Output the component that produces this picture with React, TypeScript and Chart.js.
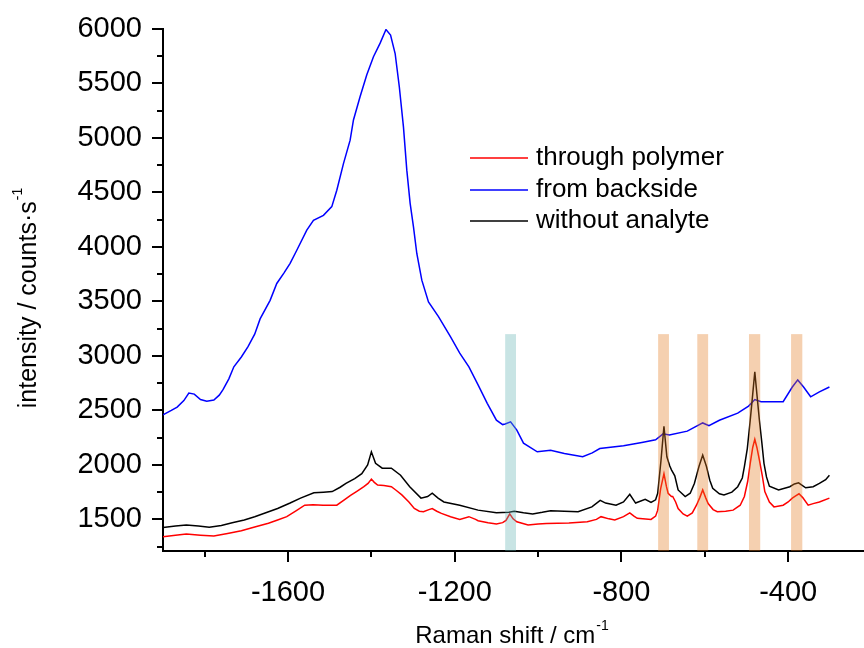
import React, { useEffect, useRef } from 'react';
import { Chart, registerables } from 'chart.js';

Chart.register(...registerables);

// ---------------- data ----------------
const seriesLabels = ['through polymer', 'from backside', 'without analyte'];
const seriesColors = ['#ff0000', '#0000ff', '#000000'];

const throughPolymerX = [
  -1900, -1870, -1844, -1810, -1778, -1745, -1712, -1680, -1647, -1625, -1603, -1580, -1560, -1540,
  -1516, -1483, -1465, -1450, -1434, -1418, -1408, -1400, -1393, -1385, -1370, -1352, -1340, -1327,
  -1310, -1297, -1285, -1275, -1262, -1254, -1243, -1232, -1210, -1188, -1166, -1150, -1144, -1120,
  -1100, -1085, -1077, -1068, -1060, -1051, -1024, -1000, -980, -926, -882, -860, -849, -830, -816,
  -795, -780, -770, -762, -729, -718, -713, -706, -698, -692, -688, -680, -677, -670, -664, -652,
  -642, -630, -620, -612, -605, -598, -592, -580, -570, -550, -532, -515, -505, -497, -491, -485,
  -480, -475, -469, -462, -456, -445, -434, -412, -400, -390, -382, -374, -365, -352, -340, -325, -301,
];
const throughPolymerY = [
  1340, 1355, 1365, 1355, 1347, 1370, 1395, 1430, 1465, 1495, 1525, 1580, 1630, 1635,
  1630, 1630, 1680, 1720, 1760, 1800, 1830, 1870, 1840, 1815, 1810, 1800, 1765, 1725,
  1660, 1600, 1575, 1570, 1590, 1600, 1575, 1555, 1525, 1500, 1525, 1500, 1488, 1470,
  1457, 1470, 1490, 1550, 1505, 1478, 1448, 1458, 1463, 1468, 1478, 1500, 1525, 1505, 1495,
  1525, 1560, 1530, 1510, 1500, 1530, 1585, 1780, 1920, 1800, 1740, 1710, 1710, 1660, 1600, 1550,
  1530, 1560, 1630, 1700, 1770, 1700, 1645, 1590, 1570, 1575, 1585, 1630, 1710, 1850, 2015, 2160,
  2235, 2160, 2045, 1900, 1755, 1660, 1615, 1630, 1660, 1695, 1715, 1735, 1700, 1630, 1645, 1660, 1695,
];

const fromBacksideX = [
  -1900, -1880, -1866, -1850, -1838, -1825, -1810, -1795, -1778, -1765, -1756, -1742, -1730, -1712,
  -1696, -1680, -1667, -1643, -1627, -1610, -1595, -1579, -1555, -1539, -1515, -1495, -1483, -1467,
  -1451, -1443, -1427, -1411, -1395, -1379, -1365, -1354, -1343, -1333, -1323, -1315, -1307, -1299,
  -1291, -1279, -1263, -1239, -1220, -1210, -1188, -1166, -1144, -1122, -1100, -1085, -1079, -1066,
  -1051, -1035, -1002, -970, -937, -893, -870, -852, -795, -751, -718, -700, -685, -642, -605, -590,
  -565, -521, -495, -480, -465, -445, -412, -390, -377, -363, -346, -325, -301,
];
const fromBacksideY = [
  2460, 2500, 2530, 2590, 2660, 2650, 2600, 2585, 2595, 2640, 2690, 2790, 2900, 2990,
  3085, 3200, 3340, 3510, 3665, 3760, 3850, 3970, 4155, 4245, 4290, 4370, 4520, 4765,
  4980, 5165, 5380, 5580, 5745, 5870, 5995, 5945, 5775, 5470, 5100, 4705, 4400, 4185,
  3940, 3695, 3495, 3360, 3240, 3175, 3025, 2900, 2735, 2565, 2410, 2370, 2375, 2395,
  2320, 2200, 2120, 2135, 2105, 2075, 2110, 2150, 2175, 2205, 2230, 2285, 2275, 2310, 2385, 2360,
  2410, 2475, 2540, 2600, 2580, 2580, 2580, 2715, 2780, 2715, 2625, 2670, 2715,
];

const withoutAnalyteX = [
  -1900, -1870, -1844, -1815, -1789, -1760, -1734, -1705, -1680, -1650, -1625, -1595, -1570, -1538,
  -1515, -1494, -1475, -1461, -1440, -1423, -1409, -1400, -1390, -1374, -1352, -1330, -1308, -1281,
  -1265, -1254, -1240, -1226, -1188, -1144, -1100, -1070, -1057, -1035, -1013, -990, -970, -904,
  -871, -851, -838, -813, -795, -780, -766, -743, -729, -718, -713, -705, -698, -691, -684, -680,
  -672, -664, -647, -635, -625, -614, -605, -596, -588, -581, -565, -554, -535, -521, -510, -505,
  -498, -491, -485, -480, -475, -469, -463, -458, -452, -445, -423, -396, -385, -375, -358, -340,
  -325, -310, -301,
];
const withoutAnalyteY = [
  1425, 1440, 1448, 1440, 1428, 1445, 1470, 1495, 1525, 1565, 1600, 1650, 1695, 1745,
  1750, 1755, 1795, 1830, 1875, 1920, 2000, 2120, 2015, 1970, 1970, 1905, 1800, 1695,
  1710, 1740, 1695, 1660, 1630, 1585, 1560, 1565, 1575, 1560, 1550, 1565, 1580, 1570,
  1615, 1675, 1650, 1630, 1660, 1730, 1650, 1685, 1655, 1680, 1740, 2045, 2355, 2075, 1990, 1955,
  1900, 1770, 1710, 1740, 1830, 1985, 2090, 1985, 1860, 1785, 1735, 1725, 1750, 1800, 1880, 1985,
  2150, 2410, 2650, 2855, 2650, 2410, 2200, 2015, 1890, 1805, 1770, 1800, 1825, 1835, 1790, 1800,
  1830, 1865, 1905,
];

// axis ticks
const xMajorTicks = [-1600, -1200, -800, -400];
const xMinorTicks = [-1800, -1400, -1000, -600, -200];
const yMajorTicks = [1500, 2000, 2500, 3000, 3500, 4000, 4500, 5000, 5500, 6000];
const yMinorTicks = [1250, 1750, 2250, 2750, 3250, 3750, 4250, 4750, 5250, 5750];

// highlighted wavenumber bands
const bandStarts = [-1079, -712, -618, -494, -393];
const bandEnds = [-1053, -686, -592, -467, -366];
const bandColors = ['rgba(98,178,178,0.35)', 'rgba(226,121,29,0.35)', 'rgba(226,121,29,0.35)', 'rgba(226,121,29,0.35)', 'rgba(226,121,29,0.35)'];
const bandTopValue = 3200;

const FONT = '"Liberation Sans", Arial, Helvetica, sans-serif';
const TICK_SIZE = 29;
const X_TITLE_SIZE = 24;
const Y_TITLE_SIZE = 25;
const LEGEND_SIZE = 26;

function drawWithSup(ctx: CanvasRenderingContext2D, main: string, sup: string, x: number, y: number, size: number, align: 'start' | 'center') {
  const supSize = Math.round(size * 0.58);
  ctx.font = `${size}px ${FONT}`;
  const w1 = ctx.measureText(main).width;
  ctx.font = `${supSize}px ${FONT}`;
  const w2 = ctx.measureText(sup).width;
  const total = w1 + w2 + 1;
  const x0 = align === 'center' ? x - total / 2 : x;
  ctx.textAlign = 'left';
  ctx.textBaseline = 'middle';
  ctx.font = `${size}px ${FONT}`;
  ctx.fillText(main, x0, y);
  ctx.font = `${supSize}px ${FONT}`;
  ctx.fillText(sup, x0 + w1 + 1, y - size * 0.42);
}

const overlayPlugin = {
  id: 'overlayPlugin',
  afterDatasetsDraw(chart: any) {
    const { ctx, chartArea, scales } = chart;
    const xs = scales.x;
    const ys = scales.y;
    ctx.save();
    const top = ys.getPixelForValue(bandTopValue);
    for (let i = 0; i < bandStarts.length; i++) {
      const a = xs.getPixelForValue(bandStarts[i]);
      const b = xs.getPixelForValue(bandEnds[i]);
      ctx.fillStyle = bandColors[i];
      ctx.fillRect(a, top, b - a, chartArea.bottom - top);
    }
    ctx.restore();
  },
  afterDraw(chart: any) {
    const { ctx, chartArea, scales } = chart;
    const xs = scales.x;
    const ys = scales.y;
    ctx.save();
    ctx.strokeStyle = '#000';
    ctx.lineWidth = 2;
    ctx.beginPath();
    const bottom = chartArea.bottom;
    const left = chartArea.left;
    xMajorTicks.forEach((v) => {
      const p = Math.round(xs.getPixelForValue(v));
      if (p >= left && p <= chartArea.right) { ctx.moveTo(p, bottom); ctx.lineTo(p, bottom + 11); }
    });
    xMinorTicks.forEach((v) => {
      const p = Math.round(xs.getPixelForValue(v));
      if (p >= left && p <= chartArea.right) { ctx.moveTo(p, bottom); ctx.lineTo(p, bottom + 6); }
    });
    yMajorTicks.forEach((v) => {
      const p = Math.round(ys.getPixelForValue(v));
      ctx.moveTo(left, p); ctx.lineTo(left - 11, p);
    });
    yMinorTicks.forEach((v) => {
      const p = Math.round(ys.getPixelForValue(v));
      ctx.moveTo(left, p); ctx.lineTo(left - 6, p);
    });
    ctx.stroke();

    ctx.fillStyle = '#000';
    // x title
    drawWithSup(ctx, 'Raman shift / cm', '-1', 512, 636, X_TITLE_SIZE, 'center');
    // y title
    ctx.save();
    ctx.translate(29, 298);
    ctx.rotate(-Math.PI / 2);
    drawWithSup(ctx, 'intensity / counts\u00b7s', '-1', 0, 0, Y_TITLE_SIZE, 'center');
    ctx.restore();

    // legend
    const legendY = [158, 190, 221];
    for (let i = 0; i < seriesLabels.length; i++) {
      ctx.strokeStyle = seriesColors[i];
      ctx.lineWidth = 1.5;
      ctx.beginPath();
      ctx.moveTo(470, legendY[i]);
      ctx.lineTo(528, legendY[i]);
      ctx.stroke();
      ctx.fillStyle = '#000';
      ctx.font = `${LEGEND_SIZE}px ${FONT}`;
      ctx.textAlign = 'left';
      ctx.textBaseline = 'middle';
      ctx.fillText(seriesLabels[i], 536, legendY[i]);
    }
    ctx.restore();
  },
};

function toPoints(xs: number[], ys: number[]) {
  return xs.map((x, i) => ({ x, y: ys[i] }));
}

export default function App() {
  const ref = useRef<HTMLCanvasElement | null>(null);
  useEffect(() => {
    if (!ref.current) return;
    const chart = new Chart(ref.current, {
      type: 'line',
      data: {
        datasets: [
          { label: seriesLabels[0], data: toPoints(throughPolymerX, throughPolymerY), borderColor: seriesColors[0], borderWidth: 1.5, pointRadius: 0, tension: 0, order: 1 },
          { label: seriesLabels[1], data: toPoints(fromBacksideX, fromBacksideY), borderColor: seriesColors[1], borderWidth: 1.5, pointRadius: 0, tension: 0, order: 2 },
          { label: seriesLabels[2], data: toPoints(withoutAnalyteX, withoutAnalyteY), borderColor: seriesColors[2], borderWidth: 1.5, pointRadius: 0, tension: 0, order: 0 },
        ],
      },
      options: {
        responsive: false,
        animation: false,
        layout: { padding: { top: 29, left: 0, right: 0, bottom: 0 } },
        plugins: { legend: { display: false }, tooltip: { enabled: false }, title: { display: false } },
        scales: {
          x: {
            type: 'linear',
            min: -1900,
            max: -218,
            grid: { display: false, drawTicks: false },
            border: { display: true, color: '#000', width: 2 },
            ticks: { color: '#000', font: { family: FONT, size: TICK_SIZE }, padding: 25, maxRotation: 0, callback: (v: any) => String(v) },
            afterBuildTicks: (scale: any) => { scale.ticks = xMajorTicks.map((v) => ({ value: v })); },
            afterFit: (scale: any) => { scale.height = 97; scale.paddingLeft = 0; scale.paddingRight = 0; },
          },
          y: {
            type: 'linear',
            min: 1210,
            max: 6000,
            grid: { display: false, drawTicks: false },
            border: { display: true, color: '#000', width: 2 },
            ticks: { color: '#000', font: { family: FONT, size: TICK_SIZE }, padding: 21, callback: (v: any) => String(v) },
            afterBuildTicks: (scale: any) => { scale.ticks = yMajorTicks.map((v) => ({ value: v })); },
            afterFit: (scale: any) => { scale.width = 163; scale.paddingTop = 0; scale.paddingBottom = 0; },
          },
        },
      },
      plugins: [overlayPlugin],
    } as any);
    return () => chart.destroy();
  }, []);
  return (
    <div style={{ position: 'absolute', left: 0, top: 0, width: 864, height: 648, background: '#fff' }}>
      <canvas ref={ref} width={864} height={648} />
    </div>
  );
}
